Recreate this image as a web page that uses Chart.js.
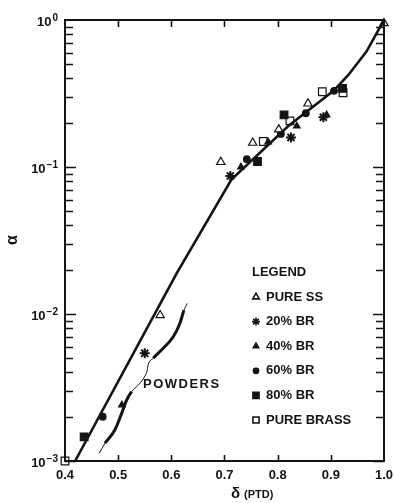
<!DOCTYPE html>
<html>
<head>
<meta charset="utf-8">
<script src="https://cdn.jsdelivr.net/npm/chart.js@4/dist/chart.umd.min.js"></script>
<style>
  html, body { margin: 0; padding: 0; background: #fff; }
  canvas { display: block; }
</style>
</head>
<body>
<canvas id="chart" width="394" height="503"></canvas>
<script>
// measured points, [delta, alpha]
const pureSS = [[0.579, 0.0098], [0.693, 0.108], [0.753, 0.146], [0.802, 0.18], [0.857, 0.27], [1.0, 0.95]];
const br20 = [[0.550, 0.0054], [0.711, 0.087], [0.825, 0.159], [0.886, 0.218]];
const br40 = [[0.507, 0.0024], [0.731, 0.1], [0.782, 0.148], [0.836, 0.19], [0.892, 0.226]];
const br60 = [[0.471, 0.002], [0.742, 0.113], [0.806, 0.168], [0.853, 0.232], [0.906, 0.33]];
const br80 = [[0.436, 0.00146], [0.762, 0.109], [0.812, 0.226], [0.922, 0.343]];
const pureBrass = [[0.4, 0.001], [0.773, 0.149], [0.823, 0.206], [0.884, 0.325], [0.923, 0.32]];

// fitted curve
const fitDelta = [0.419, 0.61, 0.713, 0.82, 0.905, 0.933, 0.967, 1.0];
const fitAlpha = [0.001, 0.0189, 0.082, 0.19, 0.33, 0.423, 0.61, 1.0];

// bracket around the powder results
const powderDelta = [0.4645, 0.4752, 0.494, 0.5066, 0.516, 0.5254, 0.5378, 0.5504, 0.5547, 0.5555, 0.566, 0.5848, 0.6036, 0.6162, 0.6237, 0.630];
const powderAlpha = [0.00113, 0.00132, 0.00163, 0.00211, 0.0026, 0.00296, 0.00329, 0.00379, 0.00416, 0.00438, 0.005, 0.00585, 0.007, 0.00865, 0.0106, 0.0118];

const xTicks = [0.4, 0.5, 0.6, 0.7, 0.8, 0.9, 1.0];
const yExponents = [0, -1, -2, -3];

const INK = '#141414';
const FONT = '"Liberation Sans", Arial, sans-serif';

const toXY = (pairs) => pairs.map(([x, y]) => ({ x, y }));
const zipXY = (xs, ys) => xs.map((x, i) => ({ x, y: ys[i] }));

function pointSet(label, data, style, radius, filled, extra) {
  return Object.assign({
    label,
    data: toXY(data),
    pointStyle: style,
    pointRadius: radius,
    pointBackgroundColor: filled ? INK : '#fff',
    pointBorderColor: INK,
    pointBorderWidth: 1.2,
    showLine: false,
    clip: false,
    isMarker: true,
  }, extra || {});
}

const datasets = [
  {
    label: 'fit',
    data: zipXY(fitDelta, fitAlpha),
    showLine: true,
    borderColor: INK,
    borderWidth: 2.6,
    pointRadius: 0,
    tension: 0,
  },
  {
    label: 'powders',
    data: zipXY(powderDelta, powderAlpha),
    showLine: true,
    borderColor: INK,
    borderWidth: 1,
    pointRadius: 0,
    cubicInterpolationMode: 'monotone',
    segment: {
      // bracket is thick along its two arms, thin at the ends and the notch
      borderWidth: (ctx) => {
        const x = ctx.p0.parsed.x;
        if (x < 0.474 || (x > 0.524 && x < 0.556) || x > 0.617) return 1;
        return 3;
      },
    },
  },
  pointSet('PURE SS', pureSS, 'triangle', 4.8, false),
  pointSet('20% BR', br20, 'star', 5, true, { pointBorderWidth: 2 }),
  pointSet('40% BR', br40, 'triangle', 3.8, true),
  pointSet('60% BR', br60, 'circle', 3.3, true),
  pointSet('80% BR', br80, 'rect', 5.4, true),
  pointSet('PURE BRASS', pureBrass, 'rect', 5.4, false),
];

// frame, inward ticks, tick labels, titles and the legend box
const framePlugin = {
  id: 'frame',
  afterDraw(chart) {
    const { ctx, chartArea: a, scales } = chart;
    const xs = scales.x, ys = scales.y;
    ctx.save();
    ctx.strokeStyle = INK;
    ctx.fillStyle = INK;

    ctx.lineWidth = 2;
    ctx.strokeRect(a.left, a.top, a.right - a.left, a.bottom - a.top);

    // x ticks, top and bottom, pointing in
    ctx.lineWidth = 1.6;
    xTicks.slice(1, -1).forEach((v) => {
      const px = Math.round(xs.getPixelForValue(v)) + 0.5;
      ctx.beginPath();
      ctx.moveTo(px, a.bottom); ctx.lineTo(px, a.bottom - 6);
      ctx.moveTo(px, a.top); ctx.lineTo(px, a.top + 7);
      ctx.stroke();
    });

    // log ticks on both sides
    yExponents.forEach((e) => {
      for (let k = 1; k <= 9; k++) {
        const v = k * Math.pow(10, e - 1);
        if (v < ys.min || v > ys.max) continue;
        const py = Math.round(ys.getPixelForValue(v)) + 0.5;
        const len = k === 1 ? 11 : 8;
        ctx.beginPath();
        ctx.moveTo(a.left, py); ctx.lineTo(a.left + len, py);
        ctx.moveTo(a.right, py); ctx.lineTo(a.right - len, py);
        ctx.stroke();
      }
    });

    // x tick labels
    ctx.font = 'bold 13px ' + FONT;
    ctx.textAlign = 'center';
    ctx.textBaseline = 'middle';
    xTicks.forEach((v) => {
      ctx.fillText(v.toFixed(1), xs.getPixelForValue(v), a.bottom + 14);
    });

    // y tick labels as 10 with a raised exponent
    ctx.textBaseline = 'alphabetic';
    ctx.textAlign = 'left';
    yExponents.forEach((e) => {
      const py = ys.getPixelForValue(Math.pow(10, e));
      const exp = e === 0 ? '0' : '\u2212' + Math.abs(e);
      ctx.font = 'bold 10px ' + FONT;
      const expW = ctx.measureText(exp).width;
      ctx.font = 'bold 13px ' + FONT;
      const baseW = ctx.measureText('10').width;
      const right = a.left - 7;
      ctx.fillText('10', right - expW - baseW - 1, py + 6);
      ctx.font = 'bold 10px ' + FONT;
      ctx.fillText(exp, right - expW, py + 1);
    });

    // axis titles
    ctx.font = 'bold 16px ' + FONT;
    ctx.save();
    ctx.translate(13, 240);
    ctx.rotate(-Math.PI / 2);
    ctx.textAlign = 'center';
    ctx.textBaseline = 'middle';
    ctx.fillText('\u03b1', 0, 0);
    ctx.restore();

    ctx.textBaseline = 'middle';
    ctx.textAlign = 'left';
    ctx.font = 'bold 15px ' + FONT;
    ctx.fillText('\u03b4', 231, 494);
    ctx.font = 'bold 11px ' + FONT;
    ctx.fillText('(PTD)', 244, 495);

    // powders annotation
    ctx.font = 'bold 13px ' + FONT;
    ctx.letterSpacing = '1.5px';
    ctx.fillText('POWDERS', 143, 384);
    ctx.letterSpacing = '0px';

    // legend
    ctx.fillText('LEGEND', 252, 272);
    const markers = chart.data.datasets.filter((d) => d.isMarker);
    markers.forEach((d, i) => {
      const cy = 297 + i * 24.6;
      ctx.fillStyle = INK;
      ctx.fillText(d.label, 266, cy);
      ctx.fillStyle = d.pointBackgroundColor;
      ctx.strokeStyle = INK;
      Chart.helpers.drawPoint(ctx, {
        pointStyle: d.pointStyle,
        radius: d.pointStyle === 'circle' ? 2.6 : d.pointRadius * 0.8,
        rotation: 0,
        borderWidth: d.pointBorderWidth,
      }, 256, cy);
    });
    ctx.restore();
  },
};

new Chart(document.getElementById('chart').getContext('2d'), {
  type: 'scatter',
  data: { datasets },
  options: {
    responsive: false,
    animation: false,
    devicePixelRatio: 1,
    layout: { padding: { left: 65, top: 20, right: 10, bottom: 42 } },
    scales: {
      x: { type: 'linear', min: 0.4, max: 1.0, display: false },
      y: { type: 'logarithmic', min: 0.001, max: 1, display: false },
    },
    plugins: {
      legend: { display: false },
      tooltip: { enabled: false },
    },
  },
  plugins: [framePlugin],
});
</script>
</body>
</html>
